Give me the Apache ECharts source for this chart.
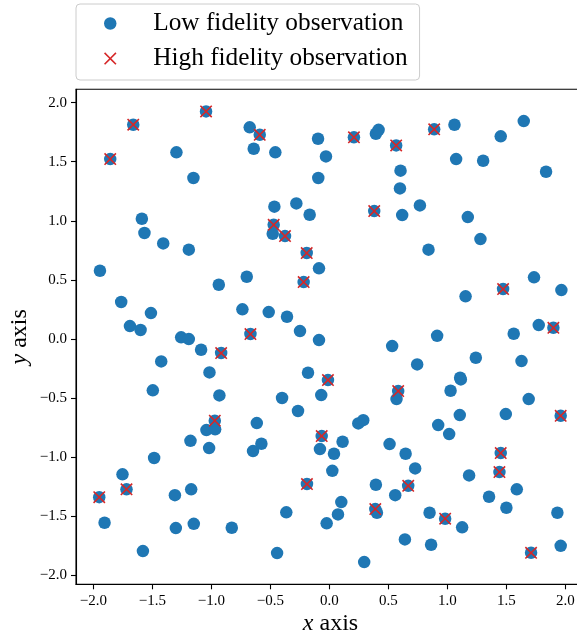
<!DOCTYPE html>
<html>
<head>
<meta charset="utf-8">
<script src="https://cdn.jsdelivr.net/npm/echarts@6/dist/echarts.min.js"></script>
<style>
  html, body { margin: 0; padding: 0; background: #fff; }
  #chart { width: 577px; height: 635px; }
</style>
</head>
<body>
<div id="chart"></div>
<script>
// Sample locations evaluated only by the cheap (low fidelity) model
var lowOnlyPoints = [
  [-1.296, 1.579], [-1.152, 1.362], [-0.675, 1.791], [-0.641, 1.610], [-0.458, 1.579],
  [-0.096, 1.694], [-0.029, 1.545], [-0.094, 1.362], [-0.466, 1.119], [-0.280, 1.147],
  [-0.167, 1.051], [-0.480, 0.890], [-1.589, 1.017], [-1.567, 0.896], [-1.408, 0.808],
  [-1.191, 0.755], [0.394, 1.737], [0.417, 1.770], [1.060, 1.813], [1.647, 1.844],
  [1.452, 1.715], [1.074, 1.522], [1.303, 1.508], [1.836, 1.415], [0.603, 1.424],
  [0.598, 1.274], [0.617, 1.048], [0.767, 1.130], [1.173, 1.031], [1.280, 0.845],
  [0.840, 0.755], [-0.088, 0.597], [-1.944, 0.577], [-0.937, 0.458], [-0.700, 0.526],
  [-1.764, 0.312], [-1.512, 0.218], [-1.690, 0.108], [-1.600, 0.075], [-0.737, 0.250],
  [-0.514, 0.227], [-0.359, 0.187], [-0.249, 0.066], [-0.088, -0.010], [-1.256, 0.013],
  [-1.191, -0.002], [-1.087, -0.092], [-1.425, -0.191], [-1.016, -0.284], [-0.181, -0.287],
  [-1.496, -0.436], [-0.932, -0.479], [-0.401, -0.501], [-0.069, -0.476], [-0.266, -0.611],
  [-0.615, -0.713], [1.734, 0.521], [1.966, 0.413], [1.154, 0.360], [1.774, 0.117],
  [1.562, 0.043], [0.913, 0.026], [0.532, -0.061], [0.744, -0.216], [1.241, -0.160],
  [1.628, -0.188], [1.108, -0.329], [1.114, -0.343], [0.569, -0.510], [1.027, -0.439],
  [1.689, -0.510], [1.105, -0.645], [1.495, -0.637], [0.245, -0.716], [0.287, -0.688],
  [0.922, -0.730], [1.015, -0.806], [-0.080, -0.933], [0.112, -0.871], [0.039, -0.973],
  [0.025, -1.117], [0.510, -0.891], [0.646, -0.973], [0.727, -1.097], [1.184, -1.156],
  [0.394, -1.235], [0.558, -1.323], [1.588, -1.274], [1.353, -1.337], [1.500, -1.430],
  [1.932, -1.472], [0.101, -1.382], [0.073, -1.486], [-0.023, -1.562], [0.403, -1.472],
  [0.849, -1.472], [1.125, -1.596], [0.640, -1.698], [0.862, -1.743], [1.960, -1.752],
  [0.295, -1.890], [-1.042, -0.772], [-0.968, -0.766], [-1.177, -0.863], [-1.019, -0.925],
  [-0.647, -0.950], [-0.576, -0.888], [-1.485, -1.009], [-1.753, -1.147], [-1.905, -1.557],
  [-1.309, -1.323], [-1.171, -1.274], [-1.301, -1.602], [-1.149, -1.566], [-1.580, -1.797],
  [-0.827, -1.599], [-0.365, -1.469], [-0.443, -1.814]
];

// Sample locations that were also evaluated by the expensive (high fidelity) model
var highFidelityPoints = [
  [-1.662, 1.813], [-1.045, 1.926], [-1.857, 1.522], [-0.590, 1.728], [-0.472, 0.966],
  [-0.376, 0.870], [-0.192, 0.727], [0.208, 1.706], [0.566, 1.638], [0.888, 1.774],
  [0.380, 1.082], [-0.218, 0.481], [-0.669, 0.041], [-0.917, -0.120], [-0.012, -0.349],
  [-0.971, -0.693], [1.472, 0.422], [1.898, 0.094], [0.583, -0.442], [1.960, -0.651],
  [-0.065, -0.823], [1.452, -0.967], [1.441, -1.128], [0.668, -1.244], [0.389, -1.441],
  [0.981, -1.523], [1.709, -1.811], [-0.190, -1.229], [-1.719, -1.274], [-1.950, -1.340]
];

// Every high fidelity site carries a low fidelity evaluation as well
var lowFidelityPoints = lowOnlyPoints.concat(highFidelityPoints);

var tickValues = [-2.0, -1.5, -1.0, -0.5, 0.0, 0.5, 1.0, 1.5, 2.0];
var seriesNames = ['Low fidelity observation', 'High fidelity observation'];

var FONT = '"Liberation Serif", "DejaVu Serif", serif';
var BLUE = '#1f77b4';
var RED = '#d62728';
// Filled "x" glyph, arm thickness about an eighth of the box
var CROSS = 'path://M0,0.9L0.9,0L5,4.1L9.1,0L10,0.9L5.9,5L10,9.1L9.1,10L5,5.9L0.9,10L0,9.1L4.1,5Z';

function tickText(v) {
  return Number(v).toFixed(1).replace('-', '\u2212');
}

function axisCommon(nameText, nameGap) {
  return {
    type: 'value',
    name: nameText,
    nameLocation: 'middle',
    nameGap: nameGap,
    nameMoveOverlap: false,
    nameTextStyle: {
      fontFamily: FONT, fontSize: 24, color: '#000',
      rich: { i: { fontFamily: FONT, fontSize: 24, fontStyle: 'italic', color: '#000' } }
    },
    splitLine: { show: false },
    axisLine: { show: true, onZero: false, lineStyle: { color: '#000', width: 1.1 } },
    axisTick: {
      show: true, inside: false, length: 5,
      customValues: tickValues,
      lineStyle: { color: '#000', width: 1.1 }
    },
    axisLabel: {
      show: true, margin: 9,
      customValues: tickValues,
      formatter: tickText,
      fontFamily: FONT, fontSize: 15, color: '#000'
    }
  };
}

var xAxis = axisCommon('{i|x} axis', 27);
xAxis.min = -2.147;
xAxis.max = 2.166;
var yAxis = axisCommon('{i|y} axis', 44);
yAxis.min = -2.078;
yAxis.max = 2.113;

var chart = echarts.init(document.getElementById('chart'), null, { renderer: 'canvas' });
chart.setOption({
  animation: false,
  backgroundColor: '#fff',
  grid: {
    left: 76, top: 89.3, width: 509, height: 495,
    containLabel: false,
    outerBoundsMode: 'none',
    show: true, borderColor: '#000', borderWidth: 1.1, backgroundColor: 'transparent'
  },
  legend: {
    left: 76, top: 4,
    orient: 'vertical',
    padding: [7, 12, 9, 28],
    itemGap: 10,
    itemWidth: 22,
    itemHeight: 12.5,
    borderColor: '#cccccc',
    borderWidth: 1,
    borderRadius: 4,
    backgroundColor: 'rgba(255,255,255,0.8)',
    textStyle: { fontFamily: FONT, fontSize: 25.3, color: '#000', padding: [0, 0, 0, 27] },
    data: [
      { name: seriesNames[0], icon: 'circle', itemStyle: { color: BLUE, borderWidth: 0 } },
      { name: seriesNames[1], icon: CROSS, itemStyle: { color: RED, borderWidth: 0 } }
    ]
  },
  xAxis: xAxis,
  yAxis: yAxis,
  series: [
    {
      name: seriesNames[0],
      type: 'scatter',
      data: lowFidelityPoints,
      symbol: 'circle',
      symbolSize: 12.5,
      itemStyle: { color: BLUE, opacity: 1 },
      z: 2
    },
    {
      name: seriesNames[1],
      type: 'scatter',
      data: highFidelityPoints,
      symbol: CROSS,
      symbolKeepAspect: true,
      symbolSize: 12.5,
      itemStyle: { color: RED, opacity: 1 },
      z: 3
    }
  ]
});
</script>
</body>
</html>
